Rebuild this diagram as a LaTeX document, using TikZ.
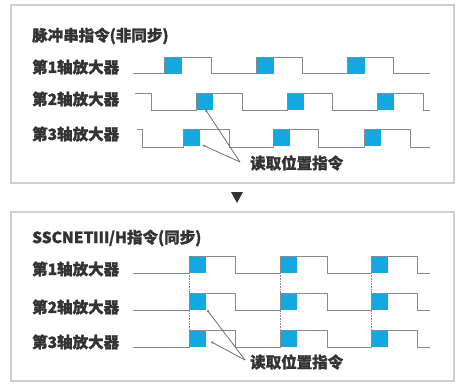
\documentclass[tikz,border=0pt]{standalone}
\usepackage{fontspec}
\setmainfont{Noto Sans CJK SC}[FakeBold=1.2]
\usetikzlibrary{calc,arrows.meta}
\definecolor{sqblue}{HTML}{14A8E0}
\definecolor{wavegray}{HTML}{8A8A8A}
\definecolor{framegray}{HTML}{CFCFCF}
\definecolor{txt}{HTML}{333333}
\tikzset{
  wave/.style={draw=wavegray, line width=1pt, line join=miter},
  sqbox/.style={fill=sqblue, draw=none, minimum width=17pt, minimum height=16.5pt, inner sep=0pt, anchor=north west},
  framebox/.style={draw=framegray, line width=1.3pt},
  lbl/.style={anchor=west, inner sep=0pt, text=txt, font=\fontsize{15.5}{16}\selectfont\bfseries},
  ttl/.style={anchor=west, inner sep=0pt, text=txt, font=\fontsize{15.5}{16}\selectfont\bfseries},
  ann/.style={anchor=west, inner sep=0pt, text=txt, font=\fontsize{15.5}{16}\selectfont\bfseries},
  pointer/.style={draw=wavegray!80!black, line width=0.8pt, -{Circle[length=2.2pt]}},
  syncline/.style={draw=wavegray, line width=0.6pt, densely dotted},
}
\begin{document}
\begin{tikzpicture}[x=1pt,y=-1pt]
\useasboundingbox (0,0) rectangle (457,383);
% frames
\draw[framebox] (11,5) rectangle (454,183);
\draw[framebox] (11,212) rectangle (454,381);
% down triangle
\fill[txt] (231,192) -- (243,192) -- (237,203) -- cycle;

% ---------- top box ----------
\node[ttl] (t1) at (32,36) {脉冲串指令(非同步)};
\node[lbl] (a1) at (32,67) {第1轴放大器};
\node[lbl] (a2) at (32,99) {第2轴放大器};
\node[lbl] (a3) at (32,134) {第3轴放大器};

\node[sqbox] (s1a) at (164.5,57) {};
\node[sqbox] (s1b) at (256.5,57) {};
\node[sqbox] (s1c) at (347.5,57) {};
\node[sqbox] (s2a) at (196,93) {};
\node[sqbox] (s2b) at (287,93) {};
\node[sqbox] (s2c) at (377,93) {};
\node[sqbox] (s3a) at (183,129.5) {};
\node[sqbox] (s3b) at (273,129.5) {};
\node[sqbox] (s3c) at (364,129.5) {};

\draw[wave] (133,73) -- (164,73) -- (164,57) -- (211,57) -- (211,73) -- (256,73) -- (256,57) -- (302,57) -- (302,73) -- (347,73) -- (347,57) -- (393,57) -- (393,73) -- (430,73);
\draw[wave] (135,93) -- (151,93) -- (151,110) -- (196,110) -- (196,93) -- (242,93) -- (242,110) -- (287,110) -- (287,93) -- (332,93) -- (332,110) -- (377,110) -- (377,93) -- (423,93) -- (423,110) -- (430,110);
\draw[wave] (137,129) -- (142,129) -- (142,147) -- (183,147) -- (183,129) -- (229,129) -- (229,147) -- (273,147) -- (273,129) -- (318,129) -- (318,147) -- (364,147) -- (364,129) -- (410,129) -- (410,147) -- (430,147);

\node[ann] (n1) at (250,163) {读取位置指令};
\coordinate (c1) at (240,162);
\draw[pointer] (c1) -- ($(s2a.south)+(1,0)$);
\draw[pointer] (c1) -- ($(s3a.south east)+(3,-1)$);

% ---------- bottom box ----------
\node[ttl] (t2) at (32,238) {SSCNETⅢ/H指令(同步)};
\node[lbl] (b1) at (32,269) {第1轴放大器};
\node[lbl] (b2) at (32,307) {第2轴放大器};
\node[lbl] (b3) at (32,342) {第3轴放大器};

\foreach \x/\n in {189/a,280/b,371/c}{
  \draw[syncline] (\x,273) -- (\x,347);
}
\foreach \x/\n in {189/a,280/b,371/c}{
  \node[sqbox] (u1\n) at (\x,256.5) {};
  \node[sqbox] (u2\n) at (\x,293.5) {};
  \node[sqbox] (u3\n) at (\x,330.5) {};
}
\foreach \y/\h in {273/256,310/293,347/330}{
  \draw[wave] (133,\y) -- (189,\y) -- (189,\h) -- (235,\h) -- (235,\y) -- (280,\y) -- (280,\h) -- (327,\h) -- (327,\y) -- (371,\y) -- (371,\h) -- (417,\h) -- (417,\y) -- (430,\y);
}

\node[ann] (n2) at (250,362) {读取位置指令};
\coordinate (c2) at (245,360);
\draw[pointer] (c2) -- ($(u2a.south east)+(1,0)$);
\draw[pointer] (c2) -- ($(u3a.east)+(5,3)$);
\end{tikzpicture}
\end{document}
